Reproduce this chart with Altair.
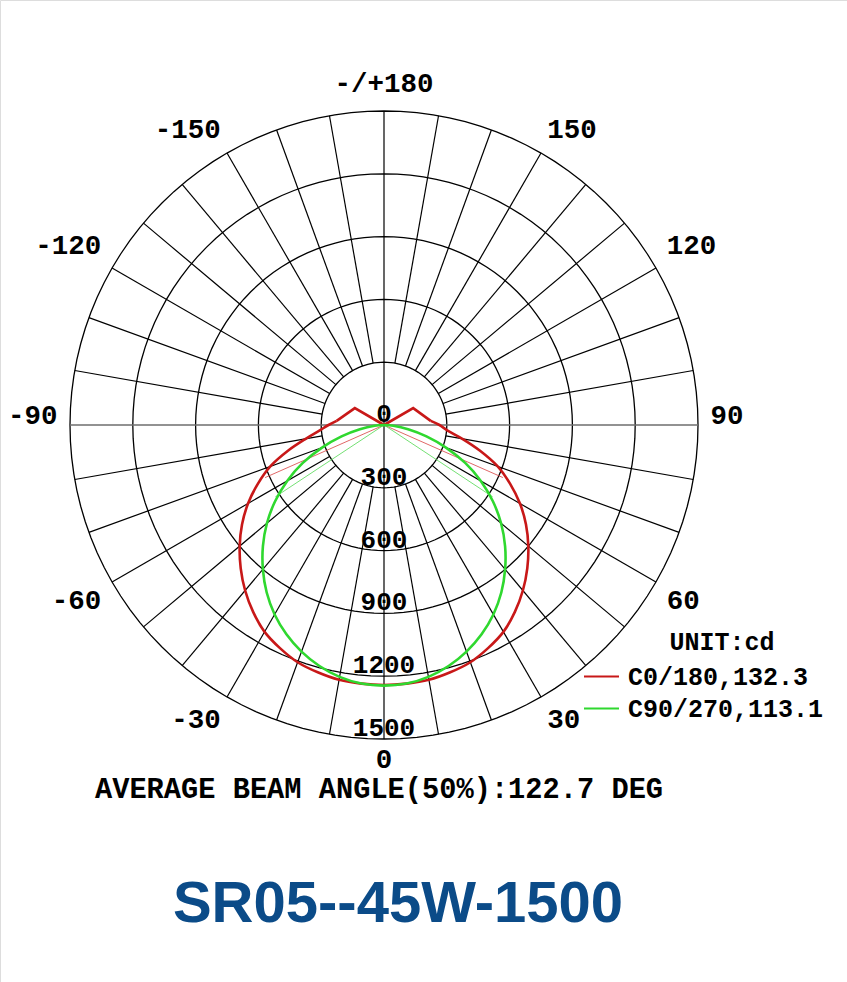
import altair as alt
import pandas as pd

# ---------------- data ----------------
series_names = ["C0/180,132.3", "C90/270,113.1"]

red_angles = [-125, -120, -95, -90, -85, -80, -75, -70, -65, -60, -55, -50, -45,
              -40, -35, -30, -25, -20, -15, -10, -5, 0, 5, 10, 15, 20, 25, 30, 35, 40,
              45, 50, 55, 60, 65, 70, 75, 80, 85, 90, 95, 120, 125]
red_cd = [0, 161, 227, 265, 310, 380, 475, 578, 665, 750, 828, 900, 968,
          1032, 1090, 1141, 1176, 1206, 1223, 1236, 1240, 1242, 1240, 1236, 1223, 1206, 1176, 1141, 1090, 1032,
          968, 900, 828, 750, 665, 578, 475, 380, 305, 265, 224, 161, 0]

green_angles = [-90, -85, -80, -75, -70, -65, -60, -55, -50, -45, -40, -35, -30, -25, -20,
                -15, -10, -5, 0, 5, 10, 15, 20, 25, 30, 35, 40, 45, 50, 55, 60, 65, 70,
                75, 80, 85, 90]
green_cd = [0, 45, 117, 210, 315, 428, 534, 635, 730, 818, 900, 977, 1045, 1103, 1152,
            1192, 1222, 1240, 1245, 1240, 1222, 1192, 1152, 1103, 1045, 977, 900, 818, 730, 635, 534, 428, 315,
            210, 117, 45, 0]

ring_values = [300, 600, 900, 1200, 1500]
radial_label_values = [0, 300, 600, 900, 1200, 1500]
spoke_angles = list(range(-170, 190, 10))

angle_ticks = [0, 30, 60, 90, 120, 150, 180, -150, -120, -90, -60, -30]
angle_tick_labels = ["0", "30", "60", "90", "120", "150", "-/+180",
                     "-150", "-120", "-90", "-60", "-30"]

beam_half_angles = [-66.15, 66.15, -56.55, 56.55]
beam_cd = [621, 621, 622, 622]
beam_series = ["C0", "C0", "C90", "C90"]

unit_text = "UNIT:cd"
beam_text = "AVERAGE BEAM ANGLE(50%):122.7 DEG"
title_text = "SR05--45W-1500"

# ---------------- layout ----------------
W, H = 847, 982
CX, CY = 384, 425
R_PX = 314
RMAX = 1500
K = R_PX / RMAX
xs = alt.Scale(domain=[-CX / K, (W - CX) / K], nice=False, zero=False)
ys = alt.Scale(domain=[-(H - CY) / K, CY / K], nice=False, zero=False)

RED = "#c81818"
GREEN = "#2fd82f"
MONO = "Liberation Mono"


def X(f):
    return alt.X(f, type="quantitative", scale=xs, axis=None)


def Y(f):
    return alt.Y(f, type="quantitative", scale=ys, axis=None)


POLAR_X = "datum.r * sin(datum.angle * PI / 180)"
POLAR_Y = "-datum.r * cos(datum.angle * PI / 180)"

# rings
rings = (
    alt.Chart(pd.DataFrame({"ring": ring_values}))
    .transform_calculate(angle="sequence(0, 361, 3)")
    .transform_flatten(["angle"])
    .transform_calculate(r="datum.ring")
    .transform_calculate(x=POLAR_X, y=POLAR_Y)
    .mark_line(color="black", strokeWidth=1.3)
    .encode(x=X("x"), y=Y("y"), detail="ring:N", order="angle:Q")
)

# spokes
spoke_base = (
    alt.Chart(pd.DataFrame({"angle": spoke_angles}))
    .transform_calculate(r0=f"(datum.angle % 90 == 0) ? 0 : {ring_values[0]}",
                         r1=f"{ring_values[-1]}")
    .transform_calculate(
        x0="datum.r0 * sin(datum.angle * PI / 180)",
        y0="-datum.r0 * cos(datum.angle * PI / 180)",
        x1="datum.r1 * sin(datum.angle * PI / 180)",
        y1="-datum.r1 * cos(datum.angle * PI / 180)",
    )
    .encode(x=X("x0"), y=Y("y0"), x2=alt.X2("x1:Q"), y2=alt.Y2("y1:Q"))
)
spokes = spoke_base.transform_filter("abs(datum.angle) != 90").mark_rule(color="black", strokeWidth=1.2)
spokes90 = spoke_base.transform_filter("abs(datum.angle) == 90").mark_rule(color="#6e6e6e", strokeWidth=1.6)

# radial value labels
radial_labels = (
    alt.Chart(pd.DataFrame({"r": radial_label_values}))
    .transform_calculate(x="0", y="-datum.r", label="'' + datum.r")
    .mark_text(font=MONO, fontSize=26, fontWeight="bold", color="black",
               baseline="alphabetic", align="center", dy=-3)
    .encode(x=X("x"), y=Y("y"), text="label:N")
)

# angle labels (small pixel nudges per angle, converted to data units)
RX, RY = 1560, 1630
nudge = ("(abs(datum.angle) == 90 ? 9 : abs(datum.angle) == 120 ? 8 : "
         "abs(datum.angle) == 60 ? -5 : datum.angle == 0 ? 6 : 0)")
ang_base = (
    alt.Chart(pd.DataFrame({"angle": angle_ticks, "label": angle_tick_labels}))
    .transform_calculate(
        x=f"{RX} * sin(datum.angle * PI / 180)",
        y=f"-{RY} * cos(datum.angle * PI / 180) + {nudge} / {K}",
    )
    .encode(x=X("x"), y=Y("y"), text="label:N")
)
txt = dict(font=MONO, fontSize=27.5, fontWeight="bold", color="black", baseline="middle")
ang_pos = ang_base.transform_filter("datum.angle > 0 && datum.angle < 180").mark_text(align="left", **txt)
ang_neg = ang_base.transform_filter("datum.angle < 0").mark_text(align="right", **txt)
ang_mid = ang_base.transform_filter("datum.angle == 0 || datum.angle == 180").mark_text(align="center", **txt)

# beam angle thin lines
beam = (
    alt.Chart(pd.DataFrame({"angle": beam_half_angles, "r": beam_cd, "s": beam_series}))
    .transform_calculate(x0="0", y0="0", x=POLAR_X, y=POLAR_Y)
)
beam_red = beam.transform_filter("datum.s == 'C0'").mark_rule(color="#d84040", strokeWidth=0.8).encode(
    x=X("x0"), y=Y("y0"), x2=alt.X2("x:Q"), y2=alt.Y2("y:Q"))
beam_green = beam.transform_filter("datum.s == 'C90'").mark_rule(color="#50d850", strokeWidth=0.8).encode(
    x=X("x0"), y=Y("y0"), x2=alt.X2("x:Q"), y2=alt.Y2("y:Q"))

# curves
curve_df = pd.concat([
    pd.DataFrame({"angle": red_angles, "r": red_cd, "series": series_names[0]}),
    pd.DataFrame({"angle": green_angles, "r": green_cd, "series": series_names[1]}),
])
color_enc = alt.Color(
    "series:N",
    scale=alt.Scale(domain=series_names, range=[RED, GREEN]),
    legend=alt.Legend(
        orient="none", legendX=583, legendY=658, title=None,
        symbolType="stroke", symbolSize=1225, symbolStrokeWidth=2,
        labelFont=MONO, labelFontSize=25, labelFontWeight="bold",
        labelColor="black", labelOffset=8, rowPadding=-4, padding=0,
        labelLimit=400,
    ),
)
curve_base = alt.Chart(curve_df).transform_calculate(
    x=POLAR_X, y=POLAR_Y, side="datum.angle < 0 ? 'L' : 'R'")
# smooth body of each curve
curves = (
    curve_base.transform_filter("abs(datum.angle) <= 95")
    .mark_line(strokeWidth=2.6, interpolate="catmull-rom")
    .encode(x=X("x"), y=Y("y"), order="angle:Q", color=color_enc)
)
# sharp back-lobe tips of the C0/180 curve (only C0/180 has values beyond 95 deg)
tips = (
    curve_base.transform_filter("abs(datum.angle) >= 95")
    .mark_line(strokeWidth=2.6, color=RED)
    .encode(x=X("x"), y=Y("y"), order="angle:Q", detail="side:N")
)

# texts
unit = alt.Chart(pd.DataFrame({"t": [unit_text]})).mark_text(
    font=MONO, fontSize=25, fontWeight="bold", color="black", align="center", baseline="middle"
).encode(x=alt.value(722), y=alt.value(642), text="t:N")

beam_label = alt.Chart(pd.DataFrame({"t": [beam_text]})).mark_text(
    font=MONO, fontSize=28.7, fontWeight="bold", color="black", align="center", baseline="middle"
).encode(x=alt.value(379), y=alt.value(789), text="t:N")

title = alt.Chart(pd.DataFrame({"t": [title_text]})).mark_text(
    font="Liberation Sans", fontSize=58, fontWeight="bold", color="#0b4b88",
    align="center", baseline="middle"
).encode(x=alt.value(398), y=alt.value(905), text="t:N")

chart = (
    alt.layer(rings, spokes, spokes90, beam_red, beam_green, tips, curves,
              radial_labels, ang_pos, ang_neg, ang_mid, unit, beam_label, title)
    .properties(width=W, height=H, padding=0, autosize=alt.AutoSizeParams(type="none"))
    .configure_view(strokeWidth=0, stroke="white")
    .configure(background="white")
)

chart.save("out.html", embed_options={"renderer": "svg", "actions": False})
